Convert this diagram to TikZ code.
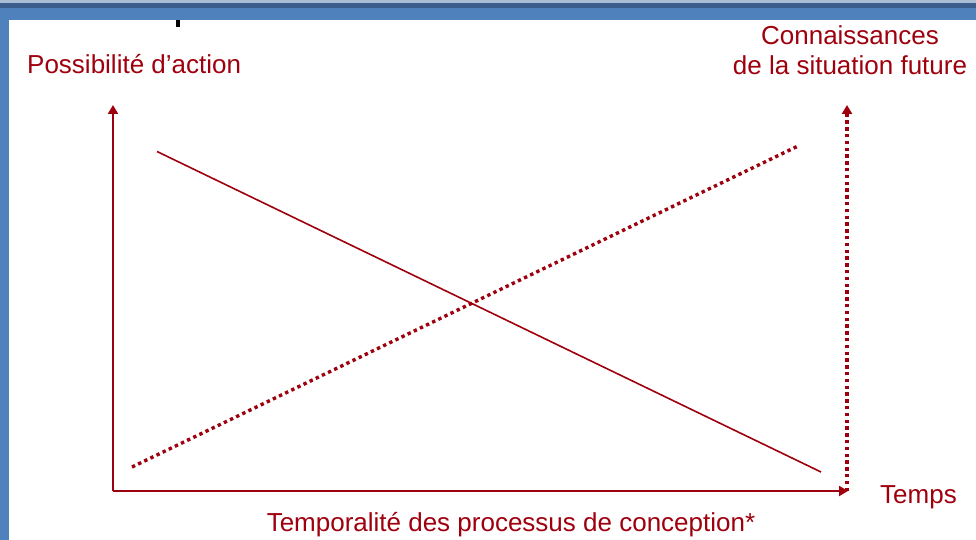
\documentclass[tikz,border=0pt]{standalone}
\usepackage{fontspec}
\setmainfont{Liberation Sans}
\usetikzlibrary{arrows.meta}
\definecolor{deepred}{RGB}{158,0,14}
\definecolor{framelight}{RGB}{172,190,212}
\definecolor{framedark}{RGB}{59,94,140}
\definecolor{framemid}{RGB}{79,129,189}
\begin{document}
\begin{tikzpicture}[x=1pt,y=-1pt,
  label/.style={text=deepred,font=\fontsize{26}{30}\selectfont,inner sep=0pt},
  axis/.style={draw=deepred,line width=2pt,-{Triangle[length=9pt,width=10pt]}},
  solidcurve/.style={draw=deepred,line width=1.6pt},
  dotcurve/.style={draw=deepred,line width=3.4pt,dash pattern=on 3.4pt off 3.4pt},
]
\useasboundingbox (0,0) rectangle (976,540);
\fill[white] (0,0) rectangle (976,540);
% slide frame
\fill[framemid] (0,0) rectangle (976,20.5);
\fill[framemid] (0,0) rectangle (9,540);
\fill[framedark] (0,3) rectangle (976,8);
\fill[framelight] (0,0) rectangle (976,3);
\fill[black] (176,20.5) rectangle (180,27);

% axes
\coordinate (origin) at (113,491);
\coordinate (ytop) at (113,105);
\coordinate (xend) at (848,491);
\coordinate (kbot) at (847,491);
\coordinate (ktop) at (847,105);
\draw[axis] (origin) -- (ytop);
\draw[axis] (origin) -- (xend);
\draw[dotcurve,-{Triangle[length=9pt,width=10pt]}] (kbot) -- (ktop);

% curves
\coordinate (pa) at (157,151.5);
\coordinate (pb) at (821,472);
\coordinate (ka) at (132,467);
\coordinate (kb) at (797,146.5);
\draw[solidcurve] (pa) -- (pb);
\draw[dotcurve] (ka) -- (kb);

% labels
\node[label,anchor=base west] (possib) at (27,74) {Possibilité d’action};
\node[label,anchor=base] (conn1) at (850,45) {Connaissances};
\node[label,anchor=base] (conn2) at (850,75) {de la situation future};
\node[label,anchor=base west] (temps) at (880,503) {Temps};
\node[label,anchor=base] (tempo) at (511,531) {Temporalité des processus de conception*};
\end{tikzpicture}
\end{document}
